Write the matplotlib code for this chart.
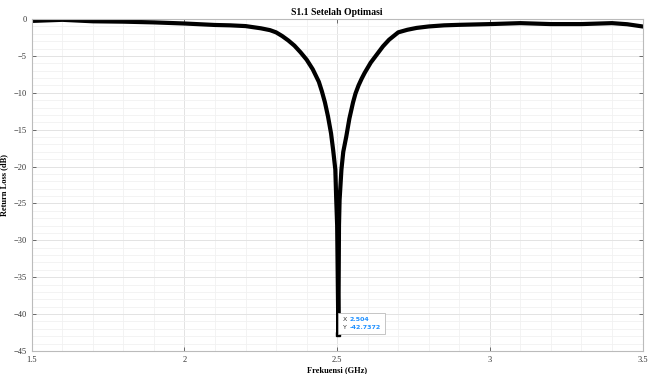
import matplotlib.pyplot as plt
from matplotlib.ticker import MultipleLocator
from matplotlib.offsetbox import TextArea, HPacker, VPacker, AnnotationBbox

# frequency (GHz) and S11 (dB)
freq = [1.50, 1.60, 1.70, 1.80, 1.90, 2.00, 2.10, 2.15, 2.20, 2.25, 2.28, 2.30,
        2.32, 2.34, 2.36, 2.38, 2.40, 2.42, 2.44, 2.45, 2.46, 2.47, 2.48, 2.487,
        2.494, 2.497, 2.500, 2.504, 2.506, 2.508, 2.514, 2.52, 2.53, 2.54, 2.552,
        2.56, 2.57, 2.58, 2.59, 2.61, 2.63, 2.65, 2.67, 2.70, 2.73, 2.76, 2.80,
        2.85, 2.90, 3.00, 3.10, 3.20, 3.30, 3.40, 3.45, 3.50]
s11 = [-0.25, -0.1, -0.3, -0.35, -0.45, -0.6, -0.8, -0.85, -0.95, -1.25, -1.5, -1.8,
       -2.3, -2.9, -3.6, -4.5, -5.5, -6.8, -8.5, -9.8, -11.3, -13.2, -15.5, -17.8,
       -20.4, -24.5, -28.0, -42.7372, -28.0, -24.5, -20.4, -18.0, -15.9, -13.5, -11.3,
       -10.1, -9.0, -8.1, -7.3, -5.9, -4.8, -3.7, -2.8, -1.8, -1.45, -1.2, -1.0,
       -0.85, -0.78, -0.68, -0.55, -0.68, -0.68, -0.55, -0.7, -1.0]

tip_x = 2.504
tip_y = -42.7372

plt.rcParams['font.family'] = ['Liberation Serif', 'DejaVu Serif']

fig = plt.figure(figsize=(6.49, 3.74), dpi=100)
ax = fig.add_axes([0.049, 0.0615, 0.941, 0.8875])

ax.plot(freq, s11, color='black', linewidth=3.0, solid_joinstyle='round')

ax.set_xlim(1.5, 3.5)
ax.set_ylim(-45, 0)
ax.xaxis.set_major_locator(MultipleLocator(0.5))
ax.xaxis.set_minor_locator(MultipleLocator(0.1))
ax.yaxis.set_major_locator(MultipleLocator(5))
ax.yaxis.set_minor_locator(MultipleLocator(1))
ax.set_xticks([1.5, 2, 2.5, 3, 3.5])
ax.set_xticklabels(['1.5', '2', '2.5', '3', '3.5'])

ax.grid(which='major', color='#e3e3e3', linewidth=0.7)
ax.grid(which='minor', color='#f1f1f1', linewidth=0.6)
ax.set_axisbelow(True)

ax.tick_params(which='both', direction='in', top=True, right=True, colors='#555555',
               labelsize=6, labelcolor='#333333', length=3, width=0.6)
ax.tick_params(which='minor', length=0)
for s in ax.spines.values():
    s.set_color('#bbbbbb')
    s.set_linewidth(0.8)

ax.set_title('S1.1 Setelah Optimasi', fontsize=7, fontweight='bold', pad=3)
ax.set_xlabel('Frekuensi (GHz)', fontsize=6, fontweight='bold', labelpad=2)
ax.set_ylabel('Return Loss (dB)', fontsize=6, fontweight='bold', labelpad=4)

# data tip
ax.plot([tip_x], [tip_y], marker='s', markersize=2.5, color='black')
lab = dict(fontsize=4.5, color='#333333', family='DejaVu Sans')
val = dict(fontsize=4.5, color='#1e90ff', family='DejaVu Sans', fontweight='bold')
row1 = HPacker(children=[TextArea('X', textprops=lab), TextArea('2.504', textprops=val)],
               pad=0, sep=2)
row2 = HPacker(children=[TextArea('Y', textprops=lab), TextArea('-42.7372', textprops=val)],
               pad=0, sep=2)
tip = VPacker(children=[row1, row2], pad=0, sep=2, align='left')
ab = AnnotationBbox(tip, (tip_x, tip_y), xybox=(3, 3), xycoords='data',
                    boxcoords='offset points', box_alignment=(0, 0), pad=0.4,
                    bboxprops=dict(boxstyle='square', fc='white', ec='#bbbbbb', lw=0.6))
ax.add_artist(ab)

fig.savefig('out.png', dpi=100)
